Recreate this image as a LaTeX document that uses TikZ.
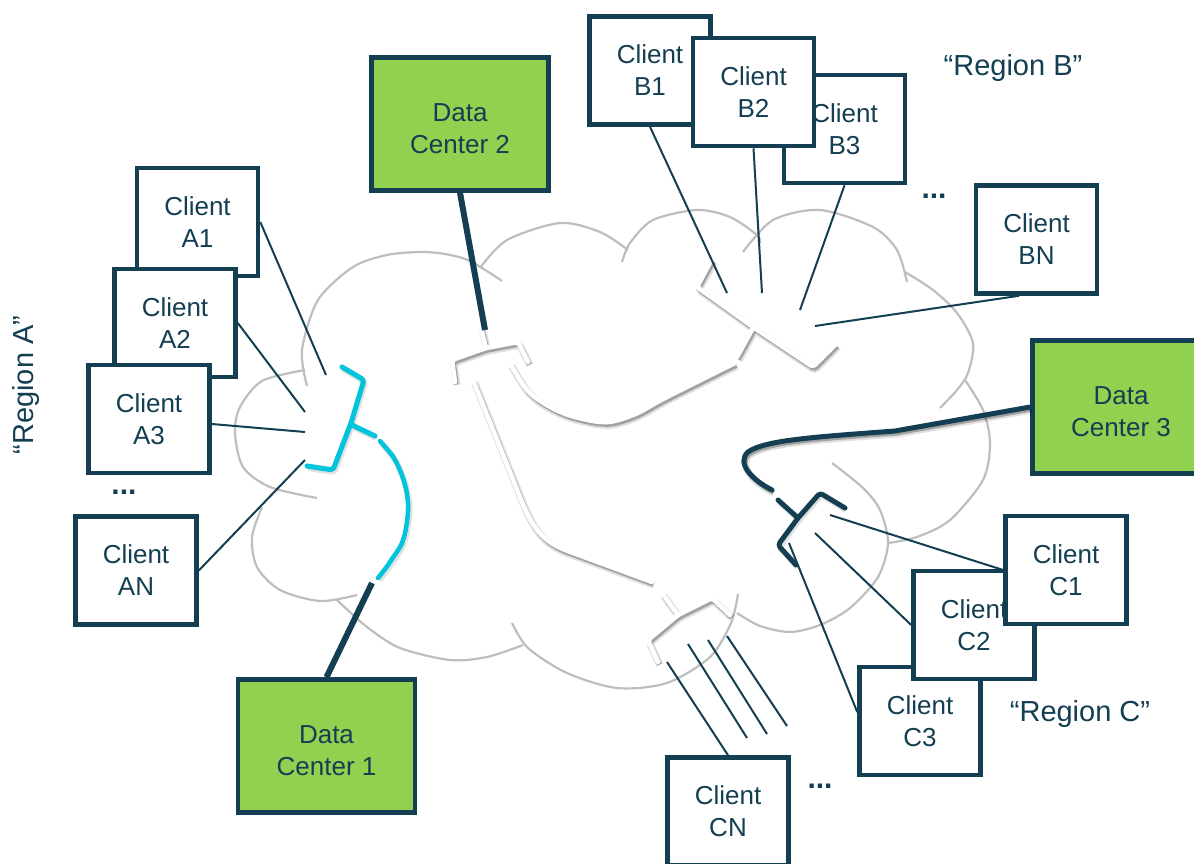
\documentclass[tikz,border=0pt]{standalone}
\usepackage{fontspec}
\setmainfont{Liberation Sans}
\usetikzlibrary{calc}

\definecolor{navy}{RGB}{20,62,82}
\definecolor{dcgreen}{RGB}{146,208,80}
\definecolor{linkcyan}{RGB}{0,196,220}
\definecolor{cloudgray}{RGB}{190,190,190}

\tikzset{
  box/.style={draw=navy, line width=4.6pt, fill=white, text=navy, align=center,
    font=\fontsize{26}{32}\selectfont, inner sep=0pt},
  client/.style={box, minimum width=121pt, minimum height=108pt},
  dc/.style={box, fill=dcgreen, minimum width=177pt, minimum height=133pt,
    text height=59pt, text depth=0pt},
  label/.style={text=navy, font=\fontsize{29}{32}\selectfont, inner sep=0pt},
  more/.style={text=navy, font=\fontsize{30}{32}\selectfont\bfseries, inner sep=0pt},
  cloudarc/.style={draw=cloudgray, line width=2.2pt},
  feed/.style={draw=navy, line width=2pt},
  trunk/.style={draw=navy, line width=6pt},
  softshadow/.style={
    preaction={draw=black, opacity=0.12, line width=#1+3pt, transform canvas={shift={(1.8pt,-3pt)}}},
    preaction={draw=black, opacity=0.28, line width=#1, transform canvas={shift={(1.5pt,-2.5pt)}}}},
  ghost/.style={draw=white, line width=4.5pt, line cap=round, line join=round,
    rounded corners=3pt, softshadow=4.5pt},
  hub/.style={line width=5pt, line cap=round, line join=round, rounded corners=3pt,
    preaction={draw=black, opacity=0.12, line width=6pt, transform canvas={shift={(1.2pt,-2pt)}}}},
}

\begin{document}
\begin{tikzpicture}[x=1pt,y=-1pt]
\useasboundingbox (0,0) rectangle (1194,864);

% ---- cloud outline ----
\draw[cloudarc] plot[smooth] coordinates {(307,386) (302,350) (318,300) (353,267) (387,255) (420,252) (445,254) (470,261) (502,281)};
\draw[cloudarc] plot[smooth] coordinates {(305,370) (262,381) (240,407) (235,433) (243,467) (270,487) (317,498)};
\draw[cloudarc] plot[smooth] coordinates {(262,507) (252,537) (257,567) (280,590) (320,601) (357,595)};
\draw[cloudarc] plot[smooth] coordinates {(337,600) (367,627) (400,648) (450,660) (487,657) (523,645)};
\draw[cloudarc] plot[smooth] coordinates {(512,623) (528,648) (567,673) (617,688) (667,683) (710,657) (731,623) (738,594)};
\draw[cloudarc] plot[smooth] coordinates {(737,613) (760,626) (790,632) (820,625) (850,608) (878,577) (888,543) (880,510) (863,488) (832,463)};
\draw[cloudarc] plot[smooth] coordinates {(965,380) (983,410) (990,443) (983,480) (950,520) (917,537) (888,543)};
\draw[cloudarc] plot[smooth] coordinates {(905,272) (933,290) (957,313) (973,343) (968,373) (957,390) (940,408)};
\draw[cloudarc] plot[smooth] coordinates {(743,252) (773,220) (820,210) (873,227) (897,250) (907,282)};
\draw[cloudarc] plot[smooth] coordinates {(622,262) (630,243) (653,220) (697,210) (730,217) (757,235) (760,243)};
\draw[cloudarc] plot[smooth] coordinates {(480,268) (507,240) (560,223) (600,232) (628,250)};

% ---- white switches and backbone links ----
\path[ghost] (480,324) -- (486,348) (455,382) -- (452,360) -- (486,348) -- (518,342) -- (528,362);
\path[ghost] (473,380) -- (518,492) .. controls (532,528) and (542,540) .. (565,550) -- (652,582);
\path[ghost] plot[smooth] coordinates {(510,363) (530,393) (563,413) (603,422) (633,415) (667,397) (735,363)};
\path[ghost] (712,259) -- (697,287) -- (753,327) -- (813,367) -- (836,344) (753,328) -- (737,357);
\path[ghost] (662,593) -- (678,615) (730,615) -- (712,598) -- (678,615) -- (648,640) -- (658,662);

% ---- region A switch (cyan) ----
\draw[hub, linkcyan] (342,367) -- (364,380) -- (351,423) -- (333,470) -- (307,466) (352,425) -- (375,436);
\draw[hub, linkcyan, line width=4.5pt] plot[smooth] coordinates {(380,441) (395,460) (405,485) (408,510) (403,540) (390,562) (378,578)};

% ---- region C switch (navy) ----
\draw[hub, navy] (778,500) -- (798,518) (845,508) -- (820,493) -- (798,518) -- (778,545) -- (796,565);

% ---- clients, data centres ----
\node[client] (a1) at (197.5,222) {Client\\A1};
\node[client] (a2) at (175,323) {Client\\A2};
\node[client] (a3) at (149,419) {Client\\A3};
\node[more] (dotsa) at (124,492) {...};
\node[client] (an) at (136,570.5) {Client\\AN};

\node[dc] (dc2) at (460,124) {Data\\Center 2};

\node[client] (b1) at (650,70.5) {Client\\B1};
\node[client] (b3) at (844.5,129) {Client\\B3};
\node[client] (b2) at (753.5,92) {Client\\B2};
\node[more] (dotsb) at (934,196) {...};
\node[client] (bn) at (1036.5,239.5) {Client\\BN};
\node[label] (rb) at (1013,68) {“Region B”};

\node[dc] (dc3) at (1121,407) {Data\\Center 3};

\node[client] (c3) at (920,721) {Client\\C3};
\node[client] (c2) at (974,625) {Client\\C2};
\node[client] (c1) at (1066,570) {Client\\C1};
\node[label] (rc) at (1080,714) {“Region C”};

\node[client] (cn) at (728,811.5) {Client\\CN};
\node[more] (dotsc) at (820,786) {...};

\node[dc] (dc1) at (326.5,746) {Data\\Center 1};

\node[label, rotate=90] (ra) at (26,385) {“Region A”};

% ---- client feeders ----
\coordinate (swa1) at (326,375);
\coordinate (swa2) at (305,412);
\coordinate (swa3) at (305,432);
\coordinate (swan) at (305,460);
\draw[feed] (a1.east) -- (swa1);
\draw[feed] (a2.east) -- (swa2);
\draw[feed] ($(a3.east)+(0,5)$) -- (swa3);
\draw[feed] (an.east) -- (swan);

\coordinate (swb1) at (727,293);
\coordinate (swb2) at (762,293);
\coordinate (swb3) at (800,310);
\coordinate (swbn) at (815,326);
\draw[feed] (b1.south) -- (swb1);
\draw[feed] (b2.south) -- (swb2);
\draw[feed] (b3.south) -- (swb3);
\draw[feed] (swbn) -- ($(bn.south west)!0.36!(bn.south east)$);

\coordinate (swc1) at (830,515);
\coordinate (swc2) at (815,533);
\coordinate (swc3) at (789,543);
\draw[feed] (swc1) -- (c1.west);
\draw[feed] (swc2) -- (c2.west);
\draw[feed] (swc3) -- ($(c3.north west)!0.42!(c3.south west)$);

\coordinate (swn1) at (667,662);
\coordinate (swn2) at (688,644);
\coordinate (swn3) at (708,640);
\coordinate (swn4) at (727,636);
\coordinate (endn2) at (747,738);
\coordinate (endn3) at (767,734);
\coordinate (endn4) at (787,726);
\draw[feed] (swn1) -- (cn.north);
\draw[feed] (swn2) -- (endn2);
\draw[feed] (swn3) -- (endn3);
\draw[feed] (swn4) -- (endn4);

% ---- data centre uplinks ----
\coordinate (sw2top) at (485,330);
\draw[trunk] (dc2.south) -- (sw2top);
\coordinate (swatail) at (372,583);
\draw[trunk] (swatail) -- (dc1.north);
\coordinate (kink) at (895,431);
\coordinate (swctail) at (772,490);
\draw[trunk, line width=5pt, line cap=round, softshadow=4pt]
  (dc3.west) -- (kink) .. controls (815,437) and (765,440) .. (748,452)
  .. controls (736,463) and (752,480) .. (swctail);
\end{tikzpicture}
\end{document}
